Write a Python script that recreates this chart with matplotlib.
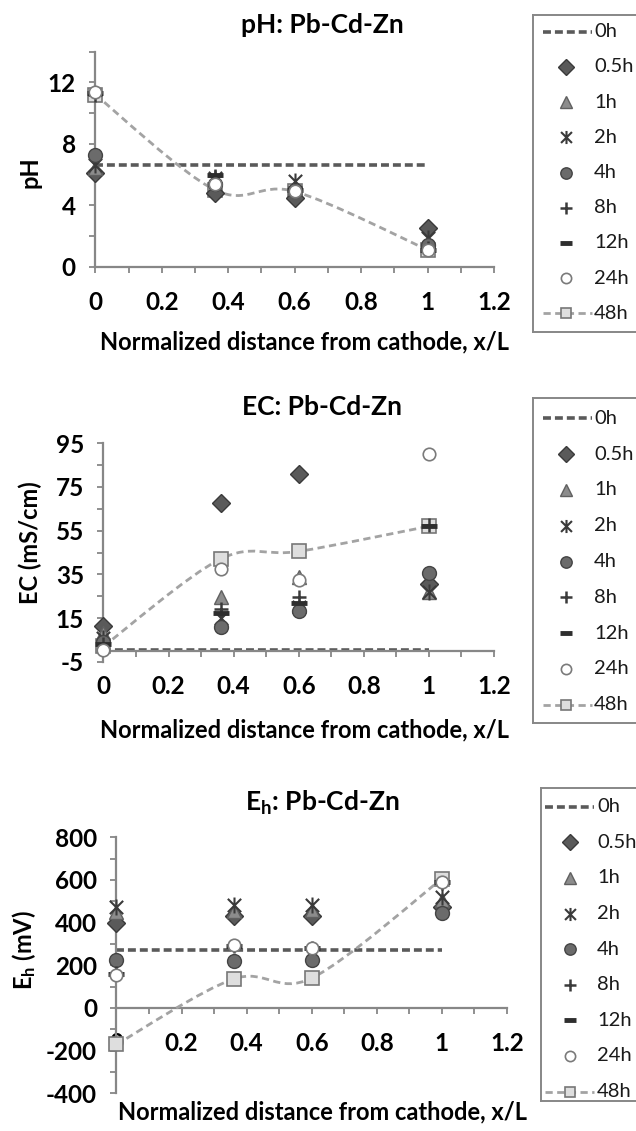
import numpy as np
import matplotlib
matplotlib.use("Agg")
import matplotlib.pyplot as plt
from matplotlib.patches import PathPatch
from matplotlib.path import Path
from matplotlib.ticker import FixedLocator, FuncFormatter

plt.rcParams["font.family"] = ["Lato", "DejaVu Sans"]
plt.rcParams["axes.unicode_minus"] = False
plt.rcParams["mathtext.default"] = "regular"

W, H = 636, 1131  # output size in pixels (dpi 100)

# normalized distance from cathode, x/L
X = [0.0, 0.36, 0.6, 1.0]
TIMES = ["0h", "0.5h", "1h", "2h", "4h", "8h", "12h", "24h", "48h"]

# pH
PH_0H = [6.6, 6.6, 6.6, 6.6]
PH_05H = [6.1, 4.8, 4.5, 2.5]
PH_1H = [6.4, 5.7, 5.1, 1.6]
PH_2H = [6.6, 5.8, 5.6, 1.9]
PH_4H = [7.3, 5.4, 5.0, 1.4]
PH_8H = [11.2, 5.9, 5.2, 1.2]
PH_12H = [11.3, 6.0, 5.0, 1.1]
PH_24H = [11.4, 5.4, 4.9, 1.1]
PH_48H = [11.2, 5.0, 4.9, 1.1]

# EC (mS/cm)
EC_0H = [0.3, 0.3, 0.3, 0.3]
EC_05H = [11.5, 67.8, 81.0, 30.5]
EC_1H = [8.0, 24.5, 34.0, 27.0]
EC_2H = [6.0, 15.0, 20.0, 27.0]
EC_4H = [4.0, 11.0, 18.0, 35.5]
EC_8H = [3.0, 19.0, 24.5, 57.5]
EC_12H = [3.0, 17.5, 22.0, 57.0]
EC_24H = [0.5, 37.5, 32.5, 90.0]
EC_48H = [2.0, 42.0, 45.5, 57.0]

# Eh (mV)
EH_0H = [270, 270, 270, 270]
EH_05H = [400, 430, 430, 475]
EH_1H = [450, 455, 460, 505]
EH_2H = [475, 483, 483, 522]
EH_4H = [226, 218, 226, 444]
EH_8H = [165, 290, 280, 585]
EH_12H = [160, 290, 280, 590]
EH_24H = [156, 295, 280, 589]
EH_48H = [-171, 136, 140, 605]

X_TICKS = [0, 0.2, 0.4, 0.6, 0.8, 1.0, 1.2]

AXIS_GREY = "#878787"
ASTER = Path([(-1, -1), (1, 1), (-1, 1), (1, -1), (0, -1.2), (0, 1.2)],
             [Path.MOVETO, Path.LINETO] * 3)

STYLES = {
    "0.5h": dict(marker="D", ms=9.5, mfc="#5a5a5a", mec="#3a3a3a", mew=1.0),
    "1h": dict(marker="^", ms=10.5, mfc="#8c8c8c", mec="#606060", mew=1.0),
    "2h": dict(marker=ASTER, ms=11.5, mfc="none", mec="#3a3a3a", mew=1.5),
    "4h": dict(marker="o", ms=10, mfc="#6b6b6b", mec="#444444", mew=1.0),
    "8h": dict(marker="+", ms=10, mfc="none", mec="#3a3a3a", mew=1.8),
    "12h": dict(marker="_", ms=11, mfc="none", mec="#2e2e2e", mew=3.5),
    "24h": dict(marker="o", ms=9, mfc="white", mec="#7a7a7a", mew=1.2),
    "48h": dict(marker="s", ms=9.5, mfc="#dedede", mec="#777777", mew=1.2),
}
LINE_0H = dict(color="#5a5a5a", lw=2.6, dashes=(2.2, 1.1))
LINE_48H = dict(color="#a3a3a3", lw=2.0, dashes=(2.6, 1.6))

TICK_FS = 17.5
LABEL_FS = 17
TITLE_FS = 19
LEGEND_FS = 14.5


def px_rect(left, top, right, bottom):
    return [left / W, 1 - bottom / H, (right - left) / W, (bottom - top) / H]


def smooth_path(xs, ys):
    # Excel-style smoothed line: cubic Bezier through the points
    pts = np.column_stack([xs, ys]).astype(float)
    n = len(pts)
    verts, codes = [pts[0]], [Path.MOVETO]
    for i in range(n - 1):
        p0 = pts[i - 1] if i > 0 else pts[i]
        p1, p2 = pts[i], pts[i + 1]
        p3 = pts[i + 2] if i + 2 < n else pts[i + 1]
        verts += [p1 + (p2 - p0) / 6, p2 - (p3 - p1) / 6, p2]
        codes += [Path.CURVE4] * 3
    return Path(verts, codes)


def fmt(v, _pos):
    return f"{v:g}"


def small(style, k=0.82):
    s = dict(style)
    s["ms"] = style["ms"] * k
    return s


def draw_legend(fig, left, top, bottom, first_y, step, offs):
    # legend box, cut by the right edge of the figure like the original
    x0, x1, xm, xt = offs  # handle start/end, marker, text start (px)
    width = 130
    lax = fig.add_axes(px_rect(left, top, left + width, bottom))
    lax.set_xlim(0, width)
    lax.set_ylim(bottom - top, 0)
    lax.set_xticks([])
    lax.set_yticks([])
    for sp in lax.spines.values():
        sp.set_color(AXIS_GREY)
        sp.set_linewidth(1.4)
    for i, name in enumerate(TIMES):
        y = first_y - top + i * step
        if name == "0h":
            lax.plot([x0, x1], [y, y], **LINE_0H)
        elif name == "48h":
            lax.plot([x0, x1], [y, y], color=LINE_48H["color"],
                     lw=LINE_48H["lw"], dashes=LINE_48H["dashes"])
            lax.plot([xm], [y], ls="none", **small(STYLES[name]))
        else:
            lax.plot([xm], [y], ls="none", **small(STYLES[name]))
        lax.text(xt, y, name, ha="left", va="center", fontsize=LEGEND_FS,
                 color="#1a1a1a")


def draw_panel(fig, rect, series, ylim, yticks, yminor, title, ylabel,
               title_xy, xlabel_xy, ylabel_xy, legend_spec):
    ax = fig.add_axes(px_rect(*rect))
    ax.set_xlim(0, 1.2)
    ax.set_ylim(*ylim)

    ax.plot(X, series["0h"], **LINE_0H, zorder=2)
    ax.add_patch(PathPatch(smooth_path(X, series["48h"]), fill=False,
                           ec=LINE_48H["color"], lw=LINE_48H["lw"],
                           ls=(0, LINE_48H["dashes"]), zorder=3))
    ax.plot(X, series["48h"], ls="none", **STYLES["48h"], zorder=4, clip_on=False)
    for name in TIMES[1:-1]:
        z = 6 if name == "24h" else 5
        ax.plot(X, series[name], ls="none", **STYLES[name], zorder=z, clip_on=False)

    for s in ("top", "right"):
        ax.spines[s].set_visible(False)
    ax.spines["bottom"].set_position(("data", 0))
    for s in ("left", "bottom"):
        ax.spines[s].set_color(AXIS_GREY)
        ax.spines[s].set_linewidth(1.6)

    ax.xaxis.set_major_locator(FixedLocator(X_TICKS))
    ax.xaxis.set_minor_locator(FixedLocator(np.arange(0, 1.21, 0.1)))
    ax.yaxis.set_major_locator(FixedLocator(yticks))
    ax.yaxis.set_minor_locator(FixedLocator(yminor))
    ax.xaxis.set_major_formatter(FuncFormatter(fmt))
    ax.yaxis.set_major_formatter(FuncFormatter(fmt))
    ax.tick_params(which="both", direction="out", length=4, width=1.3,
                   color=AXIS_GREY)
    ax.tick_params(axis="x", which="major", pad=13.5, labelsize=TICK_FS)
    ax.tick_params(axis="y", which="major", pad=10, labelsize=TICK_FS)
    for lab in ax.get_xticklabels() + ax.get_yticklabels():
        lab.set_fontweight("bold")

    fig.text(title_xy[0] / W, 1 - title_xy[1] / H, title, ha="center",
             va="center", fontsize=TITLE_FS, fontweight="bold")
    fig.text(xlabel_xy[0] / W, 1 - xlabel_xy[1] / H,
             "Normalized distance from cathode, x/L", ha="center",
             va="center", fontsize=LABEL_FS, fontweight="bold")
    fig.text(ylabel_xy[0] / W, 1 - ylabel_xy[1] / H, ylabel, ha="center",
             va="center", rotation=90, fontsize=LABEL_FS, fontweight="bold")

    draw_legend(fig, *legend_spec)
    return ax


fig = plt.figure(figsize=(W / 100, H / 100), dpi=100)

draw_panel(fig, (95.3, 51.7, 494, 266.7),
           dict(zip(TIMES, [PH_0H, PH_05H, PH_1H, PH_2H, PH_4H, PH_8H,
                            PH_12H, PH_24H, PH_48H])),
           (0, 14), [0, 4, 8, 12], np.arange(0, 14.1, 2),
           "pH: Pb-Cd-Zn", "pH",
           (322, 25), (305, 342), (30, 172),
           (533, 15, 332, 31.7, 35.2, (10, 59, 33, 61)))

draw_panel(fig, (103.4, 443.3, 494, 661.7),
           dict(zip(TIMES, [EC_0H, EC_05H, EC_1H, EC_2H, EC_4H, EC_8H,
                            EC_12H, EC_24H, EC_48H])),
           (-5, 95), np.arange(-5, 96, 20), np.arange(-5, 96, 10),
           "EC: Pb-Cd-Zn", "EC (mS/cm)",
           (322, 407), (305, 730), (30, 543),
           (533, 398, 723, 418.3, 35.8, (10, 59, 33, 61)))

draw_panel(fig, (116.4, 837.3, 507, 1093.3),
           dict(zip(TIMES, [EH_0H, EH_05H, EH_1H, EH_2H, EH_4H, EH_8H,
                            EH_12H, EH_24H, EH_48H])),
           (-400, 800), np.arange(-400, 801, 200), np.arange(-400, 801, 100),
           r"E$_{h}$: Pb-Cd-Zn", r"E$_{h}$ (mV)",
           (322, 803), (322, 1112), (24, 950),
           (541, 788, 1101, 806.7, 35.6, (4, 53, 29, 56)))

fig.savefig("out.png", dpi=100)
